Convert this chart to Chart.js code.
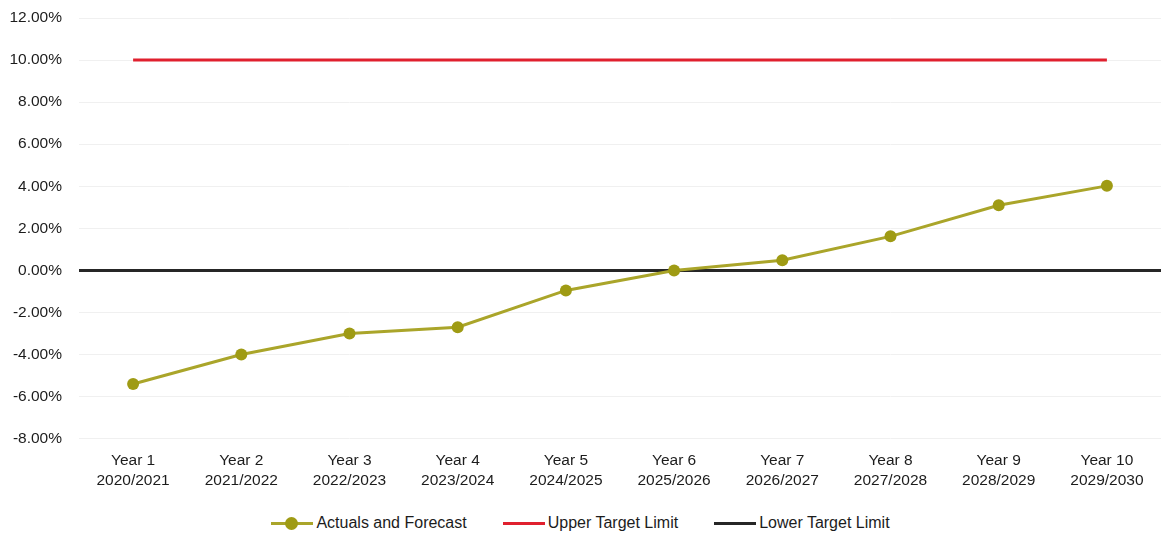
<!DOCTYPE html>
<html>
<head>
<meta charset="utf-8">
<script src="https://cdn.jsdelivr.net/npm/chart.js@4/dist/chart.umd.min.js"></script>
<style>
  html, body { margin: 0; background: #fff; overflow: hidden; font-family: "Liberation Sans", Arial, sans-serif; }
  #trendChart { display: block; }
  #legend { display: flex; justify-content: center; align-items: center; width: 1161px; height: 38px; padding-top: 8px; box-sizing: border-box; font-size: 16px; color: #1c1c1c; }
  .item { display: flex; align-items: center; margin: 0 18px; }
  .swatch { position: relative; width: 42px; height: 3px; margin-right: 3px; }
  .dot { position: absolute; left: 14px; top: -5px; width: 13px; height: 13px; border-radius: 50%; background: #9f9b14; }
</style>
</head>
<body>
<canvas id="trendChart" width="1161" height="500"></canvas>
<div id="legend">
  <div class="item"><span class="swatch" style="background:#aaa52a"><span class="dot"></span></span>Actuals and Forecast</div>
  <div class="item"><span class="swatch" style="background:#e0202e"></span>Upper Target Limit</div>
  <div class="item"><span class="swatch" style="background:#262626"></span>Lower Target Limit</div>
</div>
<script>
const years = ['Year 1', 'Year 2', 'Year 3', 'Year 4', 'Year 5', 'Year 6', 'Year 7', 'Year 8', 'Year 9', 'Year 10'];
const periods = ['2020/2021', '2021/2022', '2022/2023', '2023/2024', '2024/2025', '2025/2026', '2026/2027', '2027/2028', '2028/2029', '2029/2030'];
const actuals = [-5.4, -4.0, -3.0, -2.7, -0.95, 0.0, 0.48, 1.62, 3.1, 4.02];
const upperLimit = [10, 10, 10, 10, 10, 10, 10, 10, 10, 10];
const lowerLimit = [0, 0, 0, 0, 0, 0, 0, 0, 0, 0];

const labels = years.map((y, i) => [y, periods[i]]);

new Chart(document.getElementById('trendChart'), {
    type: 'line',
    data: {
        labels: labels,
        datasets: [{
            label: 'Actuals and Forecast',
            data: actuals,
            borderColor: '#aaa52a',
            backgroundColor: '#9f9b14',
            borderWidth: 3,
            pointRadius: 6,
            pointBorderWidth: 0,
            pointHoverRadius: 6
        }, {
            label: 'Upper Target Limit',
            data: upperLimit,
            borderColor: '#e0202e',
            borderWidth: 3,
            pointRadius: 0
        }, {
            label: 'Lower Target Limit',
            data: lowerLimit,
            borderColor: '#262626',
            borderWidth: 3,
            pointRadius: 0
        }]
    },
    options: {
        responsive: false,
        animation: false,
        // plot runs a little past the right edge of the canvas
        layout: { autoPadding: false, padding: { top: 18, right: -6, bottom: 5, left: 0 } },
        plugins: {
            legend: { display: false },
            tooltip: { enabled: false }
        },
        scales: {
            x: {
                offset: true,
                afterFit: scale => { scale.paddingLeft = 0; scale.paddingRight = 0; },
                grid: { display: false },
                border: { display: false },
                ticks: {
                    color: '#1c1c1c',
                    font: { family: 'Liberation Sans', size: 15.5, lineHeight: 1.3 },
                    padding: 4,
                    maxRotation: 0,
                    autoSkip: false
                }
            },
            y: {
                min: -8,
                max: 12,
                afterFit: scale => { scale.width = 79; scale.paddingTop = 0; scale.paddingBottom = 0; },
                border: { display: false },
                grid: {
                    drawTicks: false,
                    color: ctx => ctx.tick && ctx.tick.value === 0 ? '#262626' : '#f0f0f0',
                    lineWidth: ctx => ctx.tick && ctx.tick.value === 0 ? 3 : 1
                },
                ticks: {
                    stepSize: 2,
                    padding: 17,
                    color: '#1c1c1c',
                    font: { family: 'Liberation Sans', size: 15.5 },
                    callback: v => v.toFixed(2) + '%'
                }
            }
        }
    }
});
</script>
</body>
</html>
